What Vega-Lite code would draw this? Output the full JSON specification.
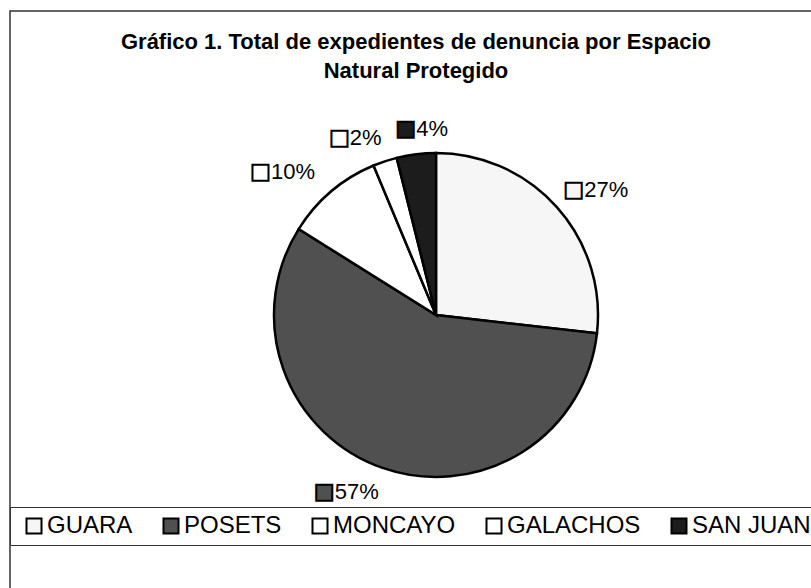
{
  "$schema": "https://vega.github.io/schema/vega-lite/v6.json",
  "width": 852,
  "height": 608,
  "autosize": {"type": "none"},
  "padding": {"left": 10, "top": 11, "right": -51, "bottom": -31},
  "background": "white",
  "view": {"stroke": "#333333", "strokeWidth": 1.5},
  "config": {"view": {"stroke": "#333333", "strokeWidth": 1.5}},
  "title": {
    "text": ["Gráfico 1. Total de expedientes de denuncia por Espacio", "Natural Protegido"],
    "frame": "group",
    "anchor": "middle",
    "dx": -20,
    "offset": -72,
    "baseline": "top",
    "font": "Liberation Sans",
    "fontSize": 22,
    "fontWeight": "bold",
    "lineHeight": 29,
    "color": "black"
  },
  "data": {
    "values": [
      {"nombre": "GUARA", "pct": 26.8, "etiqueta": "27%", "orden": 1},
      {"nombre": "POSETS", "pct": 57.1, "etiqueta": "57%", "orden": 2},
      {"nombre": "MONCAYO", "pct": 9.8, "etiqueta": "10%", "orden": 3},
      {"nombre": "GALACHOS", "pct": 2.4, "etiqueta": "2%", "orden": 4},
      {"nombre": "SAN JUAN", "pct": 3.9, "etiqueta": "4%", "orden": 5}
    ]
  },
  "encoding": {
    "theta": {"field": "pct", "type": "quantitative", "stack": true},
    "order": {"field": "orden", "type": "quantitative"},
    "color": {
      "field": "nombre",
      "type": "nominal",
      "sort": ["GUARA", "POSETS", "MONCAYO", "GALACHOS", "SAN JUAN"],
      "scale": {
        "domain": ["GUARA", "POSETS", "MONCAYO", "GALACHOS", "SAN JUAN"],
        "range": ["#f6f6f6", "#505050", "#ffffff", "#ffffff", "#1c1c1c"]
      },
      "legend": {
        "orient": "none",
        "legendX": 0,
        "legendY": 496,
        "direction": "horizontal",
        "title": " ",
        "titleOrient": "left",
        "titleFontSize": 1,
        "titlePadding": 5,
        "padding": 7,
        "strokeColor": "#333333",
        "symbolType": "square",
        "symbolSize": 225,
        "symbolStrokeColor": "black",
        "symbolStrokeWidth": 2,
        "labelFont": "Liberation Sans",
        "labelFontSize": 24,
        "labelColor": "black",
        "labelOffset": 1,
        "labelLimit": 300,
        "columnPadding": 26
      }
    }
  },
  "layer": [
    {
      "mark": {"type": "arc", "outerRadius": 162, "stroke": "black", "strokeWidth": 2.5}
    },
    {
      "mark": {
        "type": "text",
        "text": "■",
        "radius": 187,
        "dx": {"expr": "7.5 - (sin((datum.pct_start + datum.pct_end) / 100 * PI) > 0.15 ? 0.15 : sin((datum.pct_start + datum.pct_end) / 100 * PI) < -0.15 ? min(1, 0.5 - 1.3 * sin((datum.pct_start + datum.pct_end) / 100 * PI)) : 0.3) * (18 + 19.56 + 12.23 * (length(datum.etiqueta) - 1))"},
        "align": "center",
        "baseline": "middle",
        "font": "DejaVu Sans",
        "fontSize": 21,
        "stroke": "black",
        "strokeWidth": 2
      }
    },
    {
      "mark": {
        "type": "text",
        "radius": 187,
        "dx": {"expr": "18 - (sin((datum.pct_start + datum.pct_end) / 100 * PI) > 0.15 ? 0.15 : sin((datum.pct_start + datum.pct_end) / 100 * PI) < -0.15 ? min(1, 0.5 - 1.3 * sin((datum.pct_start + datum.pct_end) / 100 * PI)) : 0.3) * (18 + 19.56 + 12.23 * (length(datum.etiqueta) - 1))"},
        "align": "left",
        "baseline": "middle",
        "font": "Liberation Sans",
        "fontSize": 22
      },
      "encoding": {
        "text": {"field": "etiqueta", "type": "nominal"},
        "color": {"value": "black"}
      }
    }
  ]
}
